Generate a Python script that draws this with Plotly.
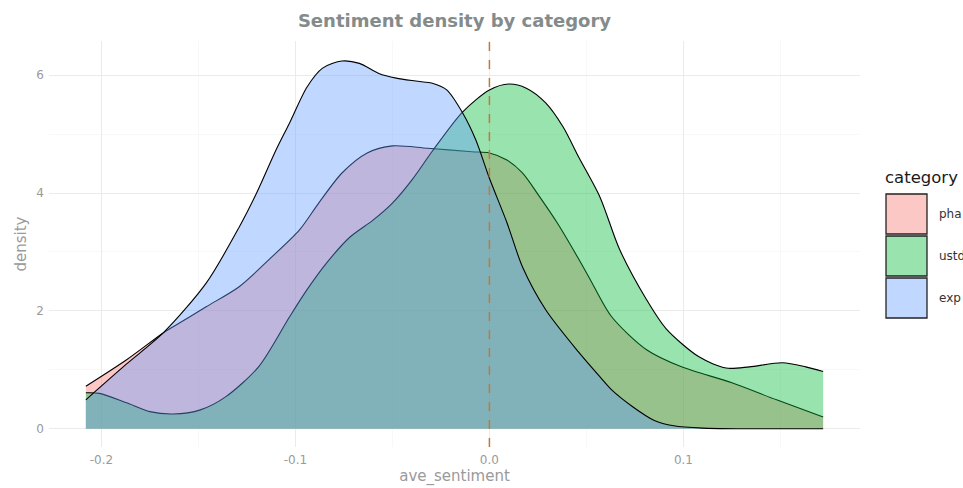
import plotly.graph_objects as go

# ---- data ----
categories = ["pha", "ustd", "exp"]

pha_x = [-0.208, -0.187, -0.168, -0.163, -0.146, -0.129, -0.112, -0.098, -0.088, -0.076,
         -0.063, -0.050, -0.032, -0.009, 0.0, 0.009, 0.017, 0.026, 0.035, 0.046, 0.052,
         0.063, 0.081, 0.099, 0.125, 0.148, 0.172]
pha_y = [0.72, 1.17, 1.63, 1.73, 2.07, 2.41, 2.92, 3.37, 3.83, 4.34,
         4.68, 4.80, 4.76, 4.70, 4.68, 4.56, 4.34, 3.93, 3.49, 2.88, 2.53,
         1.90, 1.34, 1.05, 0.78, 0.49, 0.20]

ustd_x = [-0.208, -0.201, -0.187, -0.175, -0.163, -0.149, -0.136, -0.119, -0.103, -0.094,
          -0.084, -0.072, -0.060, -0.050, -0.040, -0.029, -0.014, 0.0, 0.010, 0.019,
          0.029, 0.038, 0.046, 0.057, 0.067, 0.081, 0.091, 0.108, 0.122, 0.134,
          0.151, 0.163, 0.172]
ustd_y = [0.61, 0.60, 0.44, 0.29, 0.25, 0.32, 0.54, 1.05, 1.90, 2.36,
          2.81, 3.25, 3.54, 3.83, 4.22, 4.73, 5.37, 5.75, 5.85, 5.78,
          5.53, 5.12, 4.61, 3.93, 3.05, 2.19, 1.70, 1.22, 1.03, 1.05,
          1.12, 1.05, 0.97]

exp_x = [-0.208, -0.204, -0.187, -0.168, -0.146, -0.129, -0.120, -0.110, -0.103, -0.094,
         -0.086, -0.076, -0.067, -0.057, -0.048, -0.038, -0.029, -0.022, -0.014, -0.007,
         0.0, 0.009, 0.017, 0.029, 0.046, 0.057, 0.063, 0.074, 0.085, 0.095,
         0.110, 0.130, 0.150, 0.172]
exp_y = [0.49, 0.61, 1.10, 1.63, 2.47, 3.42, 4.00, 4.73, 5.19, 5.80,
         6.12, 6.24, 6.20, 6.03, 5.95, 5.90, 5.86, 5.75, 5.37, 4.90,
         4.25, 3.50, 2.75, 2.02, 1.30, 0.88, 0.66, 0.37, 0.14, 0.05,
         0.01, 0.0, 0.0, 0.0]

x_tick_vals = [-0.2, -0.1, 0.0, 0.1]
x_tick_labels = ["-0.2", "-0.1", "0.0", "0.1"]
y_tick_vals = [0, 2, 4, 6]
y_tick_labels = ["0", "2", "4", "6"]

# ---- styling ----
W, H = 963, 488
L, R, T, B = 49, 860, 41, 447   # panel edges in pixels
colors = {"pha": "rgba(248,118,109,0.4)", "ustd": "rgba(0,186,56,0.4)", "exp": "rgba(97,156,255,0.4)"}
FONT = "DejaVu Sans"

def px(xp):
    return (xp - L) / (R - L)

def py(yp):
    return (B - yp) / (B - T)

series = {"pha": (pha_x, pha_y), "ustd": (ustd_x, ustd_y), "exp": (exp_x, exp_y)}

fig = go.Figure()
for cat in categories:
    xs, ys = series[cat]
    fig.add_trace(go.Scatter(
        x=xs, y=ys, name=cat, mode="lines", fill="tozeroy",
        fillcolor=colors[cat],
        line=dict(color="black", width=1.1, shape="spline", smoothing=0.8),
        showlegend=False, hoverinfo="skip",
    ))

shapes = [dict(type="line", xref="x", yref="paper", x0=0, x1=0, y0=0, y1=1,
               line=dict(color="#c0783c", width=1.5, dash="dash"))]

# manual legend (ggplot-style large keys)
annotations = [dict(text="category", xref="paper", yref="paper", x=px(883), y=py(177),
                    xanchor="left", yanchor="middle", showarrow=False,
                    font=dict(family=FONT, size=16.5, color="#1a1a1a"))]
key_top = 193
key_h = 42
for i, cat in enumerate(categories):
    y0 = key_top + i * key_h
    shapes.append(dict(type="rect", xref="paper", yref="paper",
                       x0=px(886), x1=px(927), y0=py(y0 + 1), y1=py(y0 + key_h - 1),
                       fillcolor=colors[cat], line=dict(color="#222222", width=1.3)))
    annotations.append(dict(text=cat, xref="paper", yref="paper", x=px(937), y=py(y0 + key_h / 2),
                            xanchor="left", yanchor="middle", showarrow=False,
                            font=dict(family=FONT, size=12, color="#333333")))

fig.update_layout(
    width=W, height=H,
    margin=dict(l=L, r=W - R, t=T, b=H - B, autoexpand=False),
    paper_bgcolor="white", plot_bgcolor="white",
    font=dict(family=FONT, color="#9a9a9a"),
    title=dict(text="<b>Sentiment density by category</b>", x=0.5, xref="paper",
               y=1 - 21 / H, yref="container", xanchor="center", yanchor="middle",
               font=dict(family=FONT, size=18, color="#848b8b")),
    shapes=shapes, annotations=annotations,
    xaxis=dict(range=[-0.227, 0.191], tickvals=x_tick_vals, ticktext=x_tick_labels,
               showgrid=True, gridcolor="#ebebeb", gridwidth=1, zeroline=False,
               showline=False, ticks="", ticklabelstandoff=4,
               tickfont=dict(family=FONT, size=12, color="#9a9a9a"),
               minor=dict(tickvals=[-0.15, -0.05, 0.05, 0.15], showgrid=True,
                          gridcolor="#f3f3f3", gridwidth=0.6),
               title=dict(text="ave_sentiment", standoff=2,
                          font=dict(family=FONT, size=15, color="#9a9a9a"))),
    yaxis=dict(range=[-0.31, 6.58], tickvals=y_tick_vals, ticktext=y_tick_labels,
               showgrid=True, gridcolor="#ebebeb", gridwidth=1, zeroline=False,
               showline=False, ticks="", ticklabelstandoff=4,
               tickfont=dict(family=FONT, size=12, color="#9a9a9a"),
               minor=dict(tickvals=[1, 3, 5], showgrid=True,
                          gridcolor="#f3f3f3", gridwidth=0.6),
               title=dict(text="density", standoff=6,
                          font=dict(family=FONT, size=15, color="#9a9a9a"))),
)

# remove the browser's default 8px page margin so the 963x488 figure fills the window
fig.write_html("out.html",
               config={"displayModeBar": False, "staticPlot": True},
               post_script="document.body.style.margin='0';document.body.style.overflow='hidden';")
